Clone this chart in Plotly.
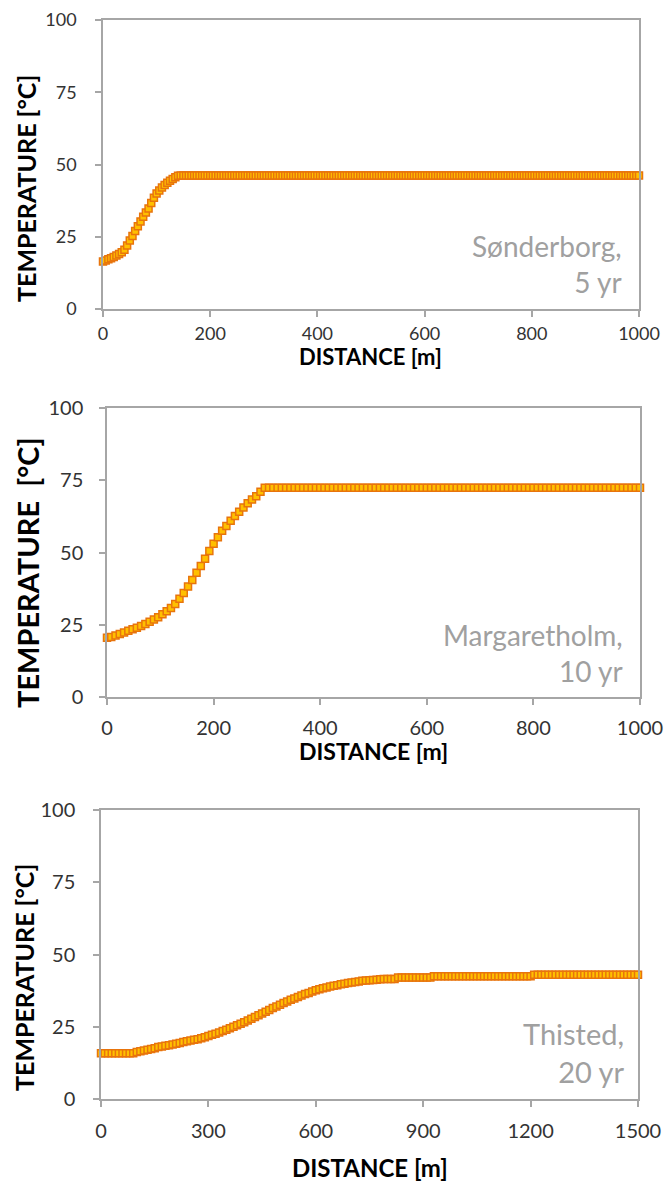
import plotly.graph_objects as go

# Sønderborg, 5 yr  -- temperature along the well, 5 m node spacing
dist_sonderborg = list(range(0, 1001, 5))
temp_sonderborg = [
    16.4, 16.8, 17.2, 17.6, 18.0, 18.5, 19.0, 19.6, 20.5, 22.0,
    23.7, 25.3, 27.0, 28.6, 30.3, 31.9, 33.4, 34.8, 36.7, 38.5,
    40.0, 41.0, 42.0, 42.9, 43.7, 44.4, 45.0, 45.6, 46.1, 46.2,
    46.2, 46.2, 46.2, 46.2, 46.2, 46.2, 46.2, 46.2, 46.2, 46.2,
    46.2, 46.2, 46.2, 46.2, 46.2, 46.2, 46.2, 46.2, 46.2, 46.2,
    46.2, 46.2, 46.2, 46.2, 46.2, 46.2, 46.2, 46.2, 46.2, 46.2,
    46.2, 46.2, 46.2, 46.2, 46.2, 46.2, 46.2, 46.2, 46.2, 46.2,
    46.2, 46.2, 46.2, 46.2, 46.2, 46.2, 46.2, 46.2, 46.2, 46.2,
    46.2, 46.2, 46.2, 46.2, 46.2, 46.2, 46.2, 46.2, 46.2, 46.2,
    46.2, 46.2, 46.2, 46.2, 46.2, 46.2, 46.2, 46.2, 46.2, 46.2,
    46.2, 46.2, 46.2, 46.2, 46.2, 46.2, 46.2, 46.2, 46.2, 46.2,
    46.2, 46.2, 46.2, 46.2, 46.2, 46.2, 46.2, 46.2, 46.2, 46.2,
    46.2, 46.2, 46.2, 46.2, 46.2, 46.2, 46.2, 46.2, 46.2, 46.2,
    46.2, 46.2, 46.2, 46.2, 46.2, 46.2, 46.2, 46.2, 46.2, 46.2,
    46.2, 46.2, 46.2, 46.2, 46.2, 46.2, 46.2, 46.2, 46.2, 46.2,
    46.2, 46.2, 46.2, 46.2, 46.2, 46.2, 46.2, 46.2, 46.2, 46.2,
    46.2, 46.2, 46.2, 46.2, 46.2, 46.2, 46.2, 46.2, 46.2, 46.2,
    46.2, 46.2, 46.2, 46.2, 46.2, 46.2, 46.2, 46.2, 46.2, 46.2,
    46.2, 46.2, 46.2, 46.2, 46.2, 46.2, 46.2, 46.2, 46.2, 46.2,
    46.2, 46.2, 46.2, 46.2, 46.2, 46.2, 46.2, 46.2, 46.2, 46.2,
    46.2,
]

# Margaretholm, 10 yr  -- 8 m node spacing
dist_margaretholm = list(range(0, 1001, 8))
temp_margaretholm = [
    20.5, 20.8, 21.3, 21.8, 22.3, 22.9, 23.4, 24.0, 24.6, 25.3,
    26.0, 26.8, 27.6, 28.6, 29.7, 30.8, 32.2, 34.0, 36.0, 38.2,
    40.5, 43.0, 45.3, 47.8, 50.5, 53.0, 55.3, 57.5, 59.2, 61.0,
    62.6, 64.1, 65.6, 67.0, 68.3, 69.5, 71.0, 72.4, 72.4, 72.4,
    72.4, 72.4, 72.4, 72.4, 72.4, 72.4, 72.4, 72.4, 72.4, 72.4,
    72.4, 72.4, 72.4, 72.4, 72.4, 72.4, 72.4, 72.4, 72.4, 72.4,
    72.4, 72.4, 72.4, 72.4, 72.4, 72.4, 72.4, 72.4, 72.4, 72.4,
    72.4, 72.4, 72.4, 72.4, 72.4, 72.4, 72.4, 72.4, 72.4, 72.4,
    72.4, 72.4, 72.4, 72.4, 72.4, 72.4, 72.4, 72.4, 72.4, 72.4,
    72.4, 72.4, 72.4, 72.4, 72.4, 72.4, 72.4, 72.4, 72.4, 72.4,
    72.4, 72.4, 72.4, 72.4, 72.4, 72.4, 72.4, 72.4, 72.4, 72.4,
    72.4, 72.4, 72.4, 72.4, 72.4, 72.4, 72.4, 72.4, 72.4, 72.4,
    72.4, 72.4, 72.4, 72.4, 72.4, 72.4,
]

# Thisted, 20 yr  -- 10 m node spacing
dist_thisted = list(range(0, 1501, 10))
temp_thisted = [
    15.8, 15.8, 15.8, 15.8, 15.8, 15.8, 15.8, 15.8, 15.8, 15.8,
    16.3, 16.5, 16.8, 17.0, 17.3, 17.6, 18.0, 18.2, 18.4, 18.6,
    18.9, 19.1, 19.4, 19.7, 20.0, 20.2, 20.5, 20.7, 21.0, 21.4,
    21.8, 22.2, 22.6, 23.0, 23.5, 24.0, 24.5, 25.0, 25.5, 26.0,
    26.6, 27.2, 27.8, 28.4, 29.0, 29.6, 30.2, 30.8, 31.5, 32.0,
    32.6, 33.2, 33.7, 34.3, 34.8, 35.3, 35.8, 36.3, 36.7, 37.2,
    37.6, 38.0, 38.3, 38.6, 38.9, 39.2, 39.4, 39.7, 39.9, 40.1,
    40.3, 40.5, 40.7, 40.9, 41.0, 41.1, 41.2, 41.3, 41.4, 41.5,
    41.5, 41.5, 41.5, 42.0, 42.0, 42.0, 42.0, 42.0, 42.0, 42.0,
    42.0, 42.0, 42.0, 42.5, 42.5, 42.5, 42.5, 42.5, 42.5, 42.5,
    42.5, 42.5, 42.5, 42.5, 42.5, 42.5, 42.5, 42.5, 42.5, 42.5,
    42.5, 42.5, 42.5, 42.5, 42.5, 42.5, 42.5, 42.5, 42.5, 42.5,
    42.5, 43.0, 43.0, 43.0, 43.0, 43.0, 43.0, 43.0, 43.0, 43.0,
    43.0, 43.0, 43.0, 43.0, 43.0, 43.0, 43.0, 43.0, 43.0, 43.0,
    43.0, 43.0, 43.0, 43.0, 43.0, 43.0, 43.0, 43.0, 43.0, 43.0,
    43.0,
]

x_ticks_1000 = [0, 200, 400, 600, 800, 1000]
x_ticks_1500 = [0, 300, 600, 900, 1200, 1500]
y_ticks = [0, 25, 50, 75, 100]

site_labels = ["Sønderborg,<br>5 yr", "Margaretholm,<br>10 yr", "Thisted,<br>20 yr"]
y_titles = ["TEMPERATURE [°C]", "TEMPERATURE\u00a0\u00a0[°C]", "TEMPERATURE [°C]"]
x_title = "DISTANCE [m]"

W, H = 664, 1181
FONT = "Lato"
AXIS_GREY = "#A6A6A6"
TEXT = "#333333"

# panel boxes in pixels: (left, right, top, bottom)
boxes = [(103, 639, 20, 309), (107, 640, 408, 697), (101, 638, 810, 1099)]

series = [
    (dist_sonderborg, temp_sonderborg, [0, 1000], x_ticks_1000),
    (dist_margaretholm, temp_margaretholm, [0, 1000], x_ticks_1000),
    (dist_thisted, temp_thisted, [0, 1500], x_ticks_1500),
]

# per-panel text styling
tick_size = [18, 20, 20]
x_standoff = [2, 6, 7]
y_standoff = [15, 12, 14]
x_title_size = [22, 23, 24]
x_title_dy = [47, 54, 68]
y_title_size = [25, 29, 25]
y_title_x = [26, 28, 24]
y_title_cy = [189, 573, 978]
label_size = [28, 28, 29]
label_bottom = [301, 690, 1091]
label_right = [624, 625, 626]

fig = go.Figure()
annotations = []

for i, ((xs, ys, xr, xt), (l, r, t, b)) in enumerate(zip(series, boxes)):
    n = "" if i == 0 else str(i + 1)
    fig.add_trace(go.Scatter(
        x=xs, y=ys, mode="markers",
        xaxis="x" + n, yaxis="y" + n,
        cliponaxis=False,
        marker=dict(symbol="square", size=7, color="#FFC000",
                    line=dict(color="#E8740C", width=1.5)),
        showlegend=False,
    ))
    axis_common = dict(
        showline=True, linecolor=AXIS_GREY, linewidth=1.5, mirror=True,
        showgrid=False, zeroline=False, ticks="outside", ticklen=6,
        tickcolor=AXIS_GREY, tickwidth=1.5, automargin=False,
        tickfont=dict(family=FONT, size=tick_size[i], color=TEXT),
    )
    fig.update_layout(**{
        "xaxis" + n: dict(axis_common, domain=[l / W, r / W], range=xr,
                          tickvals=xt, anchor="y" + n,
                          ticklabelstandoff=x_standoff[i]),
        "yaxis" + n: dict(axis_common, domain=[1 - b / H, 1 - t / H], range=[0, 100],
                          tickvals=y_ticks, anchor="x" + n,
                          ticklabelstandoff=y_standoff[i]),
    })
    # x axis title
    annotations.append(dict(
        text=x_title, xref="paper", yref="paper",
        x=((l + r) / 2) / W, y=1 - (b + x_title_dy[i]) / H,
        showarrow=False, xanchor="center", yanchor="middle",
        font=dict(family=FONT, size=x_title_size[i], color="#000000", weight="bold"),
    ))
    # y axis title
    annotations.append(dict(
        text=y_titles[i], xref="paper", yref="paper",
        x=y_title_x[i] / W, y=1 - y_title_cy[i] / H, textangle=-90,
        showarrow=False, xanchor="center", yanchor="middle",
        font=dict(family=FONT, size=y_title_size[i], color="#000000", weight="bold"),
    ))
    # site label
    annotations.append(dict(
        text=site_labels[i], xref="paper", yref="paper",
        x=label_right[i] / W, y=1 - label_bottom[i] / H, align="right",
        showarrow=False, xanchor="right", yanchor="bottom",
        font=dict(family=FONT, size=label_size[i], color="#A0A0A0"),
    ))

fig.update_layout(
    width=W, height=H,
    margin=dict(l=0, r=0, t=0, b=0, autoexpand=False),
    paper_bgcolor="white", plot_bgcolor="white",
    annotations=annotations,
)

fig.write_html("out.html")
